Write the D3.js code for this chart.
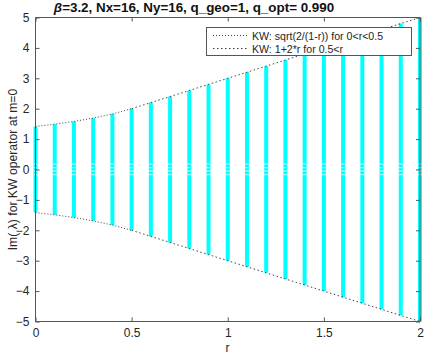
<!DOCTYPE html>
<html lang="en">
<head>
<meta charset="UTF-8">
<script src="https://d3js.org/d3.v7.min.js"></script>
<style>
  body { margin: 0; background: #fff; overflow: hidden; }
  svg { display: block; font-family: 'Liberation Sans', Arial, sans-serif; }
  .tick text { fill: #262626; font-size: 12px; }
  .tick line, .domain { stroke: #555; }
</style>
</head>
<body>
<svg id="chart" width="424" height="355"></svg>
<script>
  // r positions of the eigenvalue columns
  const rValues = [0, 0.1, 0.2, 0.3, 0.4, 0.5, 0.6, 0.7, 0.8, 0.9, 1.0,
                   1.1, 1.2, 1.3, 1.4, 1.5, 1.6, 1.7, 1.8, 1.9, 2.0];
  // max |Im(lambda)|
  const barTops = [1.41, 1.49, 1.58, 1.69, 1.83, 2.0, 2.2, 2.4, 2.6, 2.8, 3.0,
                   3.2, 3.4, 3.6, 3.8, 4.0, 4.2, 4.4, 4.6, 4.8, 5.0];
  // small empty bands near zero inside every column
  const gapValues = [-0.17, -0.05, 0.06, 0.18];

  // KW curves
  const sqrtR = [0, 0.1, 0.2, 0.3, 0.4, 0.5];
  const sqrtV = [1.414, 1.491, 1.581, 1.690, 1.826, 2.0];
  const linR = [0.5, 2.0];
  const linV = [2.0, 5.0];

  const xTicks = [0, 0.5, 1, 1.5, 2];
  const yTicks = [-5, -4, -3, -2, -1, 0, 1, 2, 3, 4, 5];

  const pLeft = 35.5, pRight = 420, pTop = 17.5, pBottom = 321.5;
  const svg = d3.select("#chart");

  const x = d3.scaleLinear().domain([0, 2]).range([pLeft, pRight]);
  const y = d3.scaleLinear().domain([-5, 5]).range([pBottom, pTop]);

  // columns
  const bars = svg.append("g");
  rValues.forEach((r, i) => {
    bars.append("line")
      .attr("x1", x(r)).attr("x2", x(r))
      .attr("y1", y(-barTops[i])).attr("y2", y(barTops[i]))
      .attr("stroke", "#00ffff").attr("stroke-width", 4);
    gapValues.forEach(g => {
      bars.append("line")
        .attr("x1", x(r) - 2).attr("x2", x(r) + 2)
        .attr("y1", y(g)).attr("y2", y(g))
        .attr("stroke", "#ffffff").attr("stroke-width", 1).attr("opacity", 0.7);
    });
  });

  // dotted KW curves
  const line = d3.line().x(d => x(d[0])).y(d => y(d[1]));
  const curves = [
    { pts: d3.zip(sqrtR, sqrtV), dash: "1,2" },
    { pts: d3.zip(sqrtR, sqrtV.map(v => -v)), dash: "1,2" },
    { pts: d3.zip(linR, linV), dash: "1.5,2.5" },
    { pts: d3.zip(linR, linV.map(v => -v)), dash: "1.5,2.5" }
  ];
  curves.forEach(c => {
    svg.append("path").attr("d", line(c.pts))
      .attr("fill", "none").attr("stroke", "#444")
      .attr("stroke-width", 1).attr("stroke-dasharray", c.dash);
  });

  // axes (ticks inside, mirrored)
  svg.append("g").attr("transform", `translate(0,${pBottom})`)
    .call(d3.axisBottom(x).tickValues(xTicks).tickSize(-4).tickPadding(7).tickFormat(d3.format("")))
    .call(g => g.select(".domain").attr("d", `M${pLeft},0H${pRight}`));
  svg.append("g").attr("transform", `translate(0,${pTop})`)
    .call(d3.axisTop(x).tickValues(xTicks).tickSize(-4).tickFormat(""))
    .call(g => g.select(".domain").attr("d", `M${pLeft},0H${pRight}`));
  svg.append("g").attr("transform", `translate(${pLeft},0)`)
    .call(d3.axisLeft(y).tickValues(yTicks).tickSize(-4).tickPadding(6).tickFormat(d3.format("")))
    .call(g => g.select(".domain").attr("d", `M0,${pTop}V${pBottom}`));
  svg.append("g").attr("transform", `translate(${pRight},0)`)
    .call(d3.axisRight(y).tickValues(yTicks).tickSize(-4).tickFormat(""))
    .call(g => g.select(".domain").attr("d", `M0,${pTop}V${pBottom}`));
  svg.selectAll(".tick text").style("font-family", "'Liberation Sans', Arial, sans-serif");

  // legend
  const lg = svg.append("g");
  lg.append("rect").attr("x", 206.5).attr("y", 27.5).attr("width", 205).attr("height", 28)
    .attr("fill", "#fff").attr("stroke", "#555").attr("stroke-width", 1);
  const entries = [
    { label: "KW: sqrt(2/(1-r)) for 0<r<0.5", dash: "1,2" },
    { label: "KW: 1+2*r for 0.5<r", dash: "1.5,2.5" }
  ];
  entries.forEach((e, i) => {
    const yy = 35.5 + i * 13;
    lg.append("line").attr("x1", 213).attr("x2", 247).attr("y1", yy).attr("y2", yy)
      .attr("stroke", "#444").attr("stroke-dasharray", e.dash);
    lg.append("text").attr("x", 252).attr("y", yy + 4)
      .attr("font-size", 10.6).attr("fill", "#262626").text(e.label);
  });

  // title and axis labels
  const title = svg.append("text").attr("x", 194).attr("y", 12)
    .attr("text-anchor", "middle").attr("font-size", 13.4).attr("font-weight", "bold").attr("fill", "#111");
  title.append("tspan").attr("font-style", "italic").text("β");
  title.append("tspan").text("=3.2, Nx=16, Ny=16, q_geo=1, q_opt= 0.990");

  svg.append("text").attr("x", 227.5).attr("y", 352)
    .attr("text-anchor", "middle").attr("font-size", 12).attr("fill", "#262626").text("r");

  svg.append("text").attr("transform", `translate(16.5,${(pTop + pBottom) / 2}) rotate(-90)`)
    .attr("text-anchor", "middle").attr("font-size", 12.2).attr("fill", "#262626")
    .text("Im( λ) for KW operator at m=0");
</script>
</body>
</html>
